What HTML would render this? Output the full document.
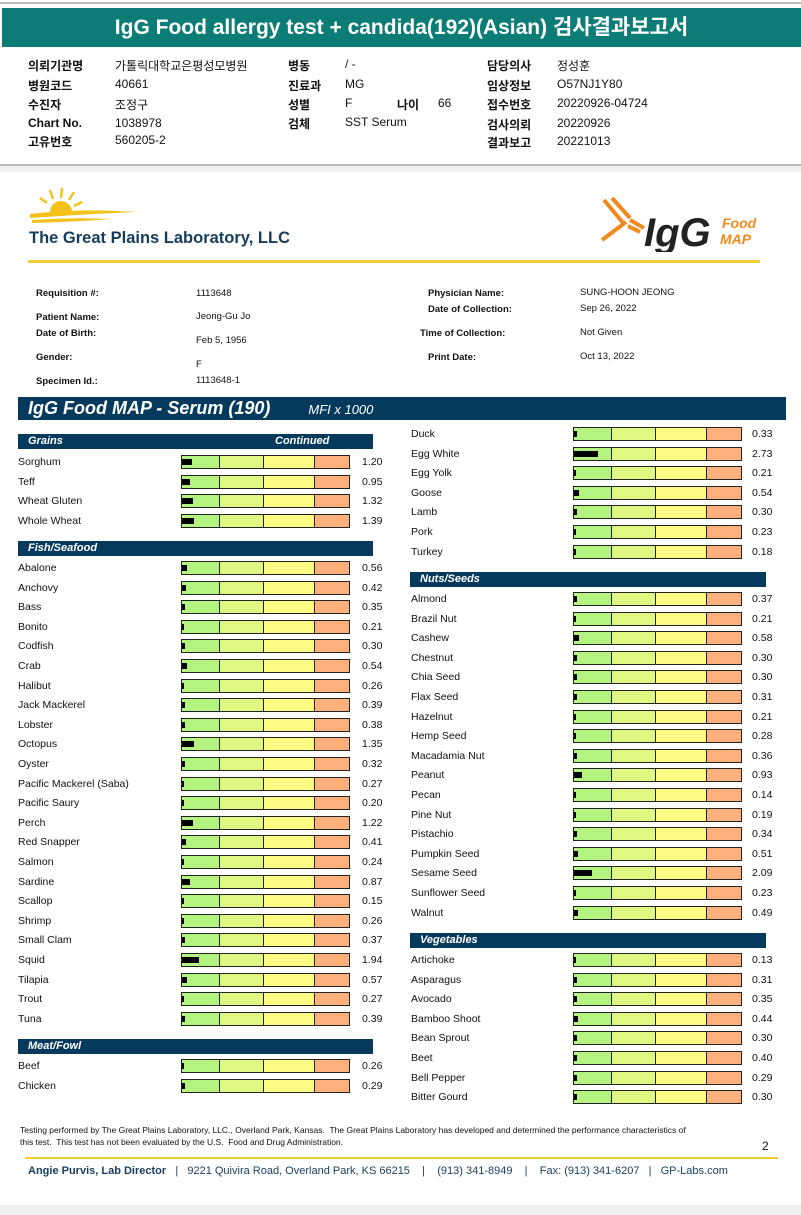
<!DOCTYPE html>
<html><head><meta charset="utf-8">
<style>
*{margin:0;padding:0;box-sizing:border-box}
body{width:801px;height:1215px;position:relative;background:#fff;font-family:"Liberation Sans",Arial,"Noto Sans CJK KR",sans-serif;overflow:hidden;color:#111}
.a{position:absolute;white-space:nowrap}
.kr{font-family:"Liberation Sans","Noto Sans CJK KR",sans-serif;font-size:12px}
.kb{font-weight:bold}
.lbl{font-size:10.5px}
.hd{position:absolute;background:#063a5c;color:#fff;font-weight:bold;font-style:italic;font-size:11px;height:15px;line-height:15px;padding-left:10px}
.bar{position:absolute;height:14px;border:1px solid #222;display:flex}
.bar div{height:100%;border-right:1px solid #222}
.bar div:last-child{border-right:none}
.blk{position:absolute;height:6px;background:#000}
.pi{font-size:9.5px}
</style></head><body>
<div class="a" style="left:0;top:2px;width:801px;height:2px;background:#bbb"></div>
<div class="a" style="left:2px;top:8px;width:799px;height:39px;background:#0b7d76;color:#fff;text-align:center;font-size:21px;font-weight:bold;line-height:39px;font-family:'Liberation Sans','Noto Sans CJK KR',sans-serif">IgG Food allergy test + candida(192)(Asian) 검사결과보고서</div>
<div id="kinfo"></div>
<div class="a" style="left:0;top:164px;width:801px;height:2px;background:#bbb"></div>
<div class="a" style="left:0;top:166px;width:801px;height:6px;background:#f0f0f0"></div>

<svg class="a" style="left:28px;top:186px" width="110" height="40">
<g stroke="#f2c21b" stroke-width="2.5" fill="none"><path d="M22 4 l3 9"/><path d="M34 2 l-1 10"/><path d="M46 6 l-5 8"/><path d="M12 12 l7 5"/><path d="M54 16 l-8 4"/></g>
<path d="M22 26 a11 11 0 0 1 22 0z" fill="#f2c21b"/>
<path d="M2 28 q50 -6 106 -2 q-50 2 -106 6z" fill="#f2c21b"/><path d="M4 34 q40 -3 80 -1 q-40 3 -80 4z" fill="#f2c21b"/>
</svg>
<div class="a" style="left:29px;top:229px;font-size:16.5px;font-weight:bold;color:#173d5e">The Great Plains Laboratory, LLC</div>
<svg class="a" style="left:596px;top:196px" width="170" height="56">
<g stroke="#f08a1d" stroke-width="4" fill="none"><path d="M8 4 l20 24"/><path d="M16 2 l18 20"/><path d="M30 26 l-24 18"/><path d="M32 30 l12 6"/><path d="M34 24 l14 8"/></g>
<text x="48" y="50" font-family="Liberation Sans" font-weight="bold" font-style="italic" font-size="40" fill="#222">IgG</text>
<text x="126" y="32" font-family="Liberation Sans" font-weight="bold" font-style="italic" font-size="14" fill="#f08a1d">Food</text>
<text x="124" y="48" font-family="Liberation Sans" font-weight="bold" font-style="italic" font-size="14" fill="#f08a1d">MAP</text>
</svg>
<div class="a" style="left:28px;top:260px;width:732px;height:3px;background:#f2cd3a"></div>
<div id="pinfo"></div>

<div class="a" style="left:18px;top:397px;width:768px;height:23px;background:#063a5c;color:#fff;font-style:italic;font-weight:bold;font-size:18px;line-height:23px;padding-left:10px">IgG Food MAP - Serum (190)<span style="font-size:13px;font-weight:normal;margin-left:38px">MFI x 1000</span></div>
<div id="chart"></div>

<div class="a" style="left:20px;top:1124px;font-size:8.5px;line-height:12px;white-space:normal;width:672px">Testing performed by The Great Plains Laboratory, LLC., Overland Park, Kansas.&nbsp; The Great Plains Laboratory has developed and determined the performance characteristics of this test.&nbsp; This test has not been evaluated by the U.S.&nbsp; Food and Drug Administration.</div>
<div class="a" style="left:762px;top:1139px;font-size:12px">2</div>
<div class="a" style="left:25px;top:1157px;width:753px;height:2px;background:#f2cd3a"></div>
<div class="a" style="left:28px;top:1165px;font-size:11px;color:#173d5e"><b>Angie Purvis, Lab Director</b> &nbsp; | &nbsp; 9221 Quivira Road, Overland Park, KS 66215 &nbsp; &nbsp;| &nbsp; &nbsp;(913) 341-8949 &nbsp; &nbsp;| &nbsp; &nbsp;Fax: (913) 341-6207 &nbsp; | &nbsp; GP-Labs.com</div>
<div class="a" style="left:0;top:1205px;width:801px;height:10px;background:#efefef"></div>

<script>
// Chart data
const grainsNames=["Sorghum","Teff","Wheat Gluten","Whole Wheat"];
const grainsVals=[1.20,0.95,1.32,1.39];
const fishNames=["Abalone","Anchovy","Bass","Bonito","Codfish","Crab","Halibut","Jack Mackerel","Lobster","Octopus","Oyster","Pacific Mackerel (Saba)","Pacific Saury","Perch","Red Snapper","Salmon","Sardine","Scallop","Shrimp","Small Clam","Squid","Tilapia","Trout","Tuna"];
const fishVals=[0.56,0.42,0.35,0.21,0.30,0.54,0.26,0.39,0.38,1.35,0.32,0.27,0.20,1.22,0.41,0.24,0.87,0.15,0.26,0.37,1.94,0.57,0.27,0.39];
const meatNames=["Beef","Chicken","Duck","Egg White","Egg Yolk","Goose","Lamb","Pork","Turkey"];
const meatVals=[0.26,0.29,0.33,2.73,0.21,0.54,0.30,0.23,0.18];
const nutsNames=["Almond","Brazil Nut","Cashew","Chestnut","Chia Seed","Flax Seed","Hazelnut","Hemp Seed","Macadamia Nut","Peanut","Pecan","Pine Nut","Pistachio","Pumpkin Seed","Sesame Seed","Sunflower Seed","Walnut"];
const nutsVals=[0.37,0.21,0.58,0.30,0.30,0.31,0.21,0.28,0.36,0.93,0.14,0.19,0.34,0.51,2.09,0.23,0.49];
const vegNames=["Artichoke","Asparagus","Avocado","Bamboo Shoot","Bean Sprout","Beet","Bell Pepper","Bitter Gourd"];
const vegVals=[0.13,0.31,0.35,0.44,0.30,0.40,0.29,0.30];

const chart=document.getElementById('chart');
const STEP=19.6, PXU=8.7;
function xScale(v){return Math.max(2,v*PXU);}
function el(cls,style,txt){const d=document.createElement('div');d.className=cls;d.style.cssText=style;if(txt!==undefined)d.textContent=txt;chart.appendChild(d);return d;}
function header(x,y,w,t,t2){
  const h=el('hd',`left:${x}px;top:${y}px;width:${w}px`,t);
  
  
  if(t2){const s=document.createElement('span');s.textContent=t2;s.style.cssText='position:absolute;left:257px';h.appendChild(s);}
}
function rows(names,vals,col,y0,from,to){
  const lx=col?411:18, bx=col?573:181, vx=col?752:362;
  for(let i=from;i<to;i++){
    const y=y0+(i-from)*STEP;
    const l=el('a lbl',`left:${lx}px;top:${y-6}px`,names[i]);
    
    
    const b=el('bar',`left:${bx}px;top:${y-7}px;width:169px`);
    
    
    [[38,'#b2f47f'],[45,'#def882'],[52,'#fdfb83'],[34,'#fdb07c']].forEach(s=>{const d=document.createElement('div');d.style.width=s[0]+'px';d.style.background=s[1];b.appendChild(d);});
    const k=el('blk',`left:${bx+1}px;top:${y-3}px;width:${xScale(vals[i])}px`);
    
    
    const v=el('a lbl',`left:${vx}px;top:${y-6}px`,vals[i].toFixed(2));
    
    
  }
}
header(18,434,355,'Grains','Continued');
rows(grainsNames,grainsVals,0,462,0,4);
header(18,541,355,'Fish/Seafood');
rows(fishNames,fishVals,0,568,0,24);
header(18,1039,355,'Meat/Fowl');
rows(meatNames,meatVals,0,1066,0,2);
rows(meatNames,meatVals,1,434,2,9);
header(410,572,356,'Nuts/Seeds');
rows(nutsNames,nutsVals,1,599,0,17);
header(410,933,356,'Vegetables');
rows(vegNames,vegVals,1,960,0,8);

// Korean info
const ki=document.getElementById('kinfo');
const kdata=[[28,57,'의뢰기관명',1],[115,57,'가톨릭대학교은평성모병원',0],[288,57,'병동',1],[345,57,'/ -',0],[487,57,'담당의사',1],[557,57,'정성훈',0],
[28,77,'병원코드',1],[115,77,'40661',0],[288,77,'진료과',1],[345,77,'MG',0],[487,77,'임상정보',1],[557,77,'O57NJ1Y80',0],
[28,96,'수진자',1],[115,96,'조정구',0],[288,96,'성별',1],[345,96,'F',0],[397,96,'나이',1],[438,96,'66',0],[487,96,'접수번호',1],[557,96,'20220926-04724',0],
[28,116,'Chart No.',1],[115,116,'1038978',0],[288,115,'검체',1],[345,115,'SST Serum',0],[487,116,'검사의뢰',1],[557,116,'20220926',0],
[28,133,'고유번호',1],[115,133,'560205-2',0],[487,134,'결과보고',1],[557,134,'20221013',0]];
kdata.forEach(d=>{const e=document.createElement('div');e.className='a kr'+(d[3]?' kb':'');e.style.cssText=`left:${d[0]}px;top:${d[1]}px`;e.textContent=d[2];


ki.appendChild(e);});
// Patient info
const pi=document.getElementById('pinfo');
const pdata=[[36,288,'Requisition #:',1],[196,288,'1113648',0],[36,312,'Patient Name:',1],[196,311,'Jeong-Gu Jo',0],[36,328,'Date of Birth:',1],[196,335,'Feb 5, 1956',0],[36,352,'Gender:',1],[196,359,'F',0],[36,376,'Specimen Id.:',1],[196,375,'1113648-1',0],
[428,288,'Physician Name:',1],[580,287,'SUNG-HOON JEONG',0],[428,304,'Date of Collection:',1],[580,303,'Sep 26, 2022',0],[420,328,'Time of Collection:',1],[580,327,'Not Given',0],[428,352,'Print Date:',1],[580,351,'Oct 13, 2022',0]];
pdata.forEach(d=>{const e=document.createElement('div');e.className='a pi';e.style.cssText=`left:${d[0]}px;top:${d[1]}px;${d[3]?'font-weight:bold':''}`;e.textContent=d[2];


pi.appendChild(e);});
</script>
</body></html>
